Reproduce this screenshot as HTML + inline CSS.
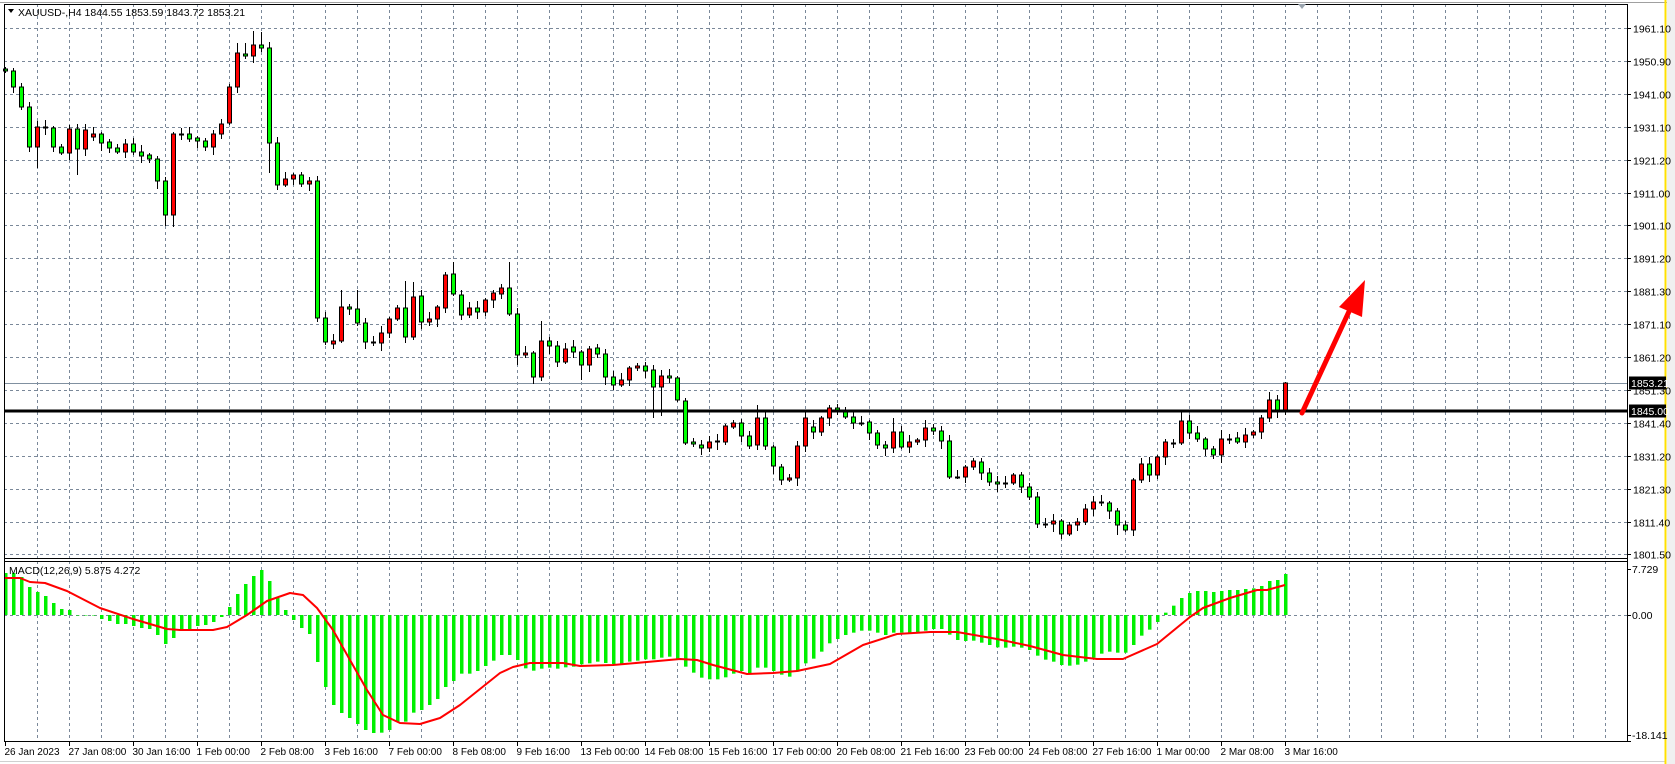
<!DOCTYPE html>
<html><head><meta charset="utf-8">
<style>
html,body{margin:0;padding:0;background:#fff;}
svg{display:block;}
text{font-family:"Liberation Sans",sans-serif;font-size:10.5px;fill:#000;}
text.d{font-size:10px;}
</style></head>
<body>
<svg id="s" width="1675" height="764" xmlns="http://www.w3.org/2000/svg">
<rect x="0" y="0" width="1675" height="764" fill="#fff"/>
<line x1="0" y1="2.5" x2="1675" y2="2.5" stroke="#a0a0a0"/>
<line x1="0" y1="761.5" x2="1665" y2="761.5" stroke="#d0d0d0"/>
<rect x="1667" y="0" width="8" height="764" fill="#f0f0f0"/>
<line x1="1665.5" y1="0" x2="1665.5" y2="764" stroke="#ffe000" stroke-width="2"/>
<g id="grid"></g>
<g id="cand"></g>
<g id="macd"></g>
<g id="ax"></g>
<text x="18" y="16">XAUUSD-,H4  1844.55 1853.59 1843.72 1853.21</text>
<polygon points="8,9 14,9 11,13" fill="#000"/>
<text x="9" y="574">MACD(12,26,9) 5.875 4.272</text>
<polygon points="1298,4 1306,4 1302,9" fill="#9aa4ae"/>
</svg>
<script>
(function(){
var NS="http://www.w3.org/2000/svg";
function el(p,t,a){var e=document.createElementNS(NS,t);for(var k in a)e.setAttribute(k,a[k]);p.appendChild(e);return e;}
var grid=document.getElementById('grid'),cg=document.getElementById('cand'),mg=document.getElementById('macd'),ax=document.getElementById('ax');
var L=4,R=1627,T=4,MB=558,MT=561,BB=741;
var gc="#7a8899";
el(ax,'line',{x1:L+.5,y1:T,x2:L+.5,y2:BB,stroke:'#000'});
el(ax,'line',{x1:L,y1:T+.5,x2:R,y2:T+.5,stroke:'#000'});
el(ax,'line',{x1:R+.5,y1:T,x2:R+.5,y2:BB+1,stroke:'#000'});
el(ax,'line',{x1:L,y1:MB+.5,x2:R,y2:MB+.5,stroke:'#000'});
el(ax,'line',{x1:L,y1:MT+.5,x2:R,y2:MT+.5,stroke:'#000'});
el(ax,'line',{x1:L,y1:BB+.5,x2:R+4,y2:BB+.5,stroke:'#000'});
for(var k=0;k<50;k++){var x=Math.round(37.3+32*k)+.5;
 el(grid,'line',{x1:x,y1:T,x2:x,y2:MB,stroke:gc,'stroke-dasharray':'3,3'});
 el(grid,'line',{x1:x,y1:MT,x2:x,y2:BB,stroke:gc,'stroke-dasharray':'3,3'});}
var pl=["1961.10","1950.90","1941.00","1931.10","1921.20","1911.00","1901.10","1891.20","1881.30","1871.10","1861.20","1851.30","1841.40","1831.20","1821.30","1811.40","1801.50"];
for(var k=0;k<17;k++){var y=Math.round(28+32.9*k)+.5;
 el(grid,'line',{x1:L,y1:y,x2:R,y2:y,stroke:gc,'stroke-dasharray':'3,3'});
 el(ax,'line',{x1:R,y1:y,x2:R+4,y2:y,stroke:'#000'});
 var t=el(ax,'text',{x:1633,y:y+4});t.textContent=pl[k];}
el(grid,'line',{x1:L,y1:615.5,x2:R,y2:615.5,stroke:gc,'stroke-dasharray':'3,3'});
[[7.729,569],["0.00",615],[-18.141,735]].forEach(function(a){var t=el(ax,'text',{x:1632,y:a[1]+4});t.textContent=a[0];el(ax,'line',{x1:R,y1:a[1]+.5,x2:R+4,y2:a[1]+.5,stroke:'#000'});});
var dl=["26 Jan 2023","27 Jan 08:00","30 Jan 16:00","1 Feb 00:00","2 Feb 08:00","3 Feb 16:00","7 Feb 00:00","8 Feb 08:00","9 Feb 16:00","13 Feb 00:00","14 Feb 08:00","15 Feb 16:00","17 Feb 00:00","20 Feb 08:00","21 Feb 16:00","23 Feb 00:00","24 Feb 08:00","27 Feb 16:00","1 Mar 00:00","2 Mar 08:00","3 Mar 16:00"];
for(var k=0;k<dl.length;k++){var x=Math.round(5.3+64*k)+.5;
 el(ax,'line',{x1:x,y1:BB,x2:x,y2:BB+5,stroke:'#000'});
 var t=el(ax,'text',{x:x-1,y:755,'class':'d'});t.textContent=dl[k];}
el(cg,'line',{x1:L,y1:383.5,x2:R,y2:383.5,stroke:'#8090a0'});
el(cg,'line',{x1:L,y1:411,x2:R,y2:411,stroke:'#000','stroke-width':3});
var C=[[69,71],[71,87],[87,107],[107,147],[147,127],[127,127],[128,147],[147,153],[153,129],[129,149],[149,130],[137,134],[134,143],[142,148],[148,152],[152,144],[144,152],[152,156],[155,159],[159,181],[181,215],[215,134],[134,134],[134,139],[138,141],[141,147],[147,134],[134,124],[123,87],[87,53],[54,56],[56,45],[45,48],[48,143],[143,185],[185,179],[179,175],[175,184],[184,181],[181,318],[318,342],[344,341],[341,307],[307,309],[309,323],[323,342],[342,342],[343,333],[333,319],[319,308],[308,337],[337,297],[296,322],[322,319],[319,307],[308,275],[274,294],[295,315],[315,308],[308,312],[312,300],[300,293],[294,288],[288,314],[314,355],[355,353],[353,377],[377,341],[341,346],[346,362],[362,349],[347,352],[352,365],[365,349],[348,354],[354,377],[377,385],[385,380],[380,368],[368,366],[366,371],[370,387],[387,376],[376,378],[378,400],[401,443],[442,444],[445,448],[448,442],[442,441],[442,426],[427,423],[423,436],[436,446],[445,418],[418,446],[447,466],[467,480],[480,478],[478,446],[446,418],[427,432],[432,418],[418,408],[408,410],[412,417],[417,423],[423,423],[422,433],[433,445],[445,448],[448,432],[432,447],[447,442],[442,440],[440,428],[428,431],[431,441],[441,477],[477,477],[477,467],[467,461],[462,473],[473,482],[482,484],[483,483],[483,475],[475,487],[487,497],[497,524],[524,524],[524,521],[521,534],[534,525],[525,522],[522,509],[509,502],[502,502],[503,511],[511,525],[525,530],[530,480],[480,464],[464,475],[475,457],[457,442],[443,443],[443,421],[421,433],[433,439],[439,449],[449,455],[455,439],[439,439],[438,442],[442,435],[435,432],[432,418],[418,400],[400,410],[410,383]];
var HI={29:43,30:43,31:31,32:32,33:42,21:132,39:176,50:281,56:262,63:262,67:321,28:84,51:282,94:405,141:478,147:410,160:382,158:392,152:430,115:420,111:418,44:290,42:290};
var LO={3:152,4:168,9:175,21:227,20:226,33:173,34:190,40:345,81:418,82:416,90:445,99:486,94:450,100:452,118:479,141:536,139:535,129:528,85:445,72:380,64:365,57:320,22:140,8:160};
for(var i=0;i<C.length;i++){var c=5.3+8*i,o=C[i][0],cl=C[i][1],tp=Math.min(o,cl),bt=Math.max(o,cl);
 var h=HI[i]!==undefined?HI[i]:tp-(2+(i*7)%6),lw=LO[i]!==undefined?LO[i]:bt+(2+(i*11)%7);
 var xc=Math.round(c)+.5;
 el(cg,'line',{x1:xc,y1:h,x2:xc,y2:lw,stroke:'#000'});
 if(bt-tp<1){el(cg,'line',{x1:xc-2.5,y1:tp+.5,x2:xc+2.5,y2:tp+.5,stroke:'#000','stroke-width':2});}
 else el(cg,'rect',{x:xc-2,y:tp,width:4,height:bt-tp,fill:(cl>o?'#00ff00':'#ff0000'),stroke:'#000','stroke-width':1});}
el(cg,'line',{x1:1302,y1:413,x2:1352,y2:305,stroke:'#ff0000','stroke-width':5,'stroke-linecap':'round'});
el(cg,'polygon',{points:'1365,280 1339,307 1362,317',fill:'#ff0000'});
[[383,"1853.21"],[411,"1845.00"]].forEach(function(a){el(ax,'rect',{x:1629,y:a[0]-6.5,width:37,height:13,fill:'#000'});var t=el(ax,'text',{x:1631,y:a[0]+4,style:'fill:#fff'});t.textContent=a[1];});
var H=[573,573,577,587,592,596,603,609,610,615,615,615,619,621,624,624,626,628,629,635,644,638,629,629,626,625,622,617,607,594,584,576,570,581,598,610,620,628,634,662,687,705,713,718,724,730,733];
var z7=[518,510,485,485,458,450,435,417,381,363,341,341,333,318,302,285,285,300,325,332,326,323,326,322,320,313,310,305,309,312,313,305,302,298,298,293,290,298,320,338,353,358,358,352,341,333,339,323,323,333,344,350,335,310,296,275,250,237];
var z8=[250,237,225,218,212,212,218,225,218,218,218,218,212,207,207,224,240,243,242,248,255,262,263,260,263,270,287,299,305,315,317,314,305,293,281,275,278,278,255,227,209,186,158,137,114,99,93,93,96,93,90,90,87,85,78,63,60,42];
z7.forEach(function(v){H.push(560+v/3);});
for(var j=2;j<z8.length;j++)H.push(560+z8[j]/3);
for(var i=0;i<H.length;i++){var c=Math.round(5.3+8*i)-1,y=H[i];
 el(mg,'rect',{x:c,y:Math.min(y,615),width:3.5,height:Math.max(Math.abs(y-615),0.5),fill:'#00f000'});}
var S=[[5,578],[20,578],[30,582],[45,583],[67,591],[100,608],[133,619],[167,629],[180,630],[213,630],[227,627],[247,615],[267,601],[290,593],[303,595],[317,608],[333,630],[367,690],[383,715],[400,723],[420,724],[440,718],[460,705],[480,689],[500,673],[513,667],[530,663],[563,663],[580,666],[613,665],[647,662],[680,659],[697,660],[713,665],[747,674],[773,673],[797,671],[830,664],[863,645],[897,634],[930,632],[957,632],[997,639],[1030,646],[1063,655],[1097,659],[1123,659],[1157,644],[1190,617],[1203,608],[1230,598],[1257,590],[1267,590],[1285,585]];
el(mg,'polyline',{points:S.map(function(p){return p.join(',');}).join(' '),fill:'none',stroke:'#ff0000','stroke-width':2,'stroke-linejoin':'round'});
})();
</script>
</body></html>
